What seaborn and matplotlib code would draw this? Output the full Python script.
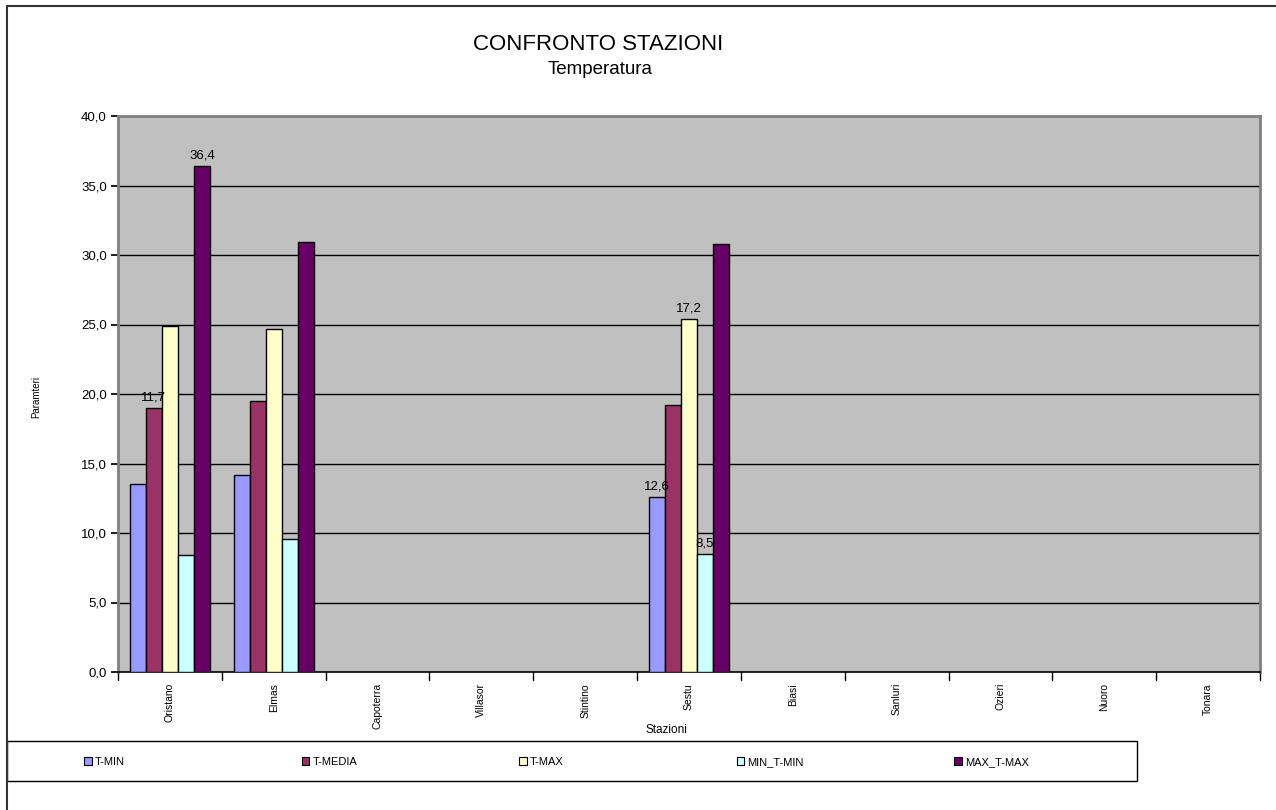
import numpy as np
import pandas as pd
import matplotlib
matplotlib.use("Agg")
import matplotlib.pyplot as plt
from matplotlib.lines import Line2D
from matplotlib.patches import Patch, Rectangle
import seaborn as sns

# Stations along the x axis
stations = ["Oristano", "Elmas", "Capoterra", "Villasor", "Stintino", "Sestu",
            "Biasi", "Sanluri", "Ozieri", "Nuoro", "Tonara"]
series = ["T-MIN", "T-MEDIA", "T-MAX", "MIN_T-MIN", "MAX_T-MAX"]

nan = np.nan
t_min     = [13.5, 14.2, nan, nan, nan, 12.6, nan, nan, nan, nan, nan]
t_media   = [19.0, 19.5, nan, nan, nan, 19.2, nan, nan, nan, nan, nan]
t_max     = [24.9, 24.7, nan, nan, nan, 25.4, nan, nan, nan, nan, nan]
min_t_min = [8.4, 9.6, nan, nan, nan, 8.5, nan, nan, nan, nan, nan]
max_t_max = [36.4, 30.9, nan, nan, nan, 30.8, nan, nan, nan, nan, nan]

# Data labels shown on selected bars
label_station = ["Oristano", "Oristano", "Sestu", "Sestu", "Sestu"]
label_series = ["T-MEDIA", "MAX_T-MAX", "T-MIN", "T-MAX", "MIN_T-MIN"]
label_text = ["11,7", "36,4", "12,6", "17,2", "8,5"]

y_ticks = [0, 5, 10, 15, 20, 25, 30, 35, 40]

colors = ["#9999FF", "#993366", "#FFFFCC", "#CCFFFF", "#660066"]

values = [t_min, t_media, t_max, min_t_min, max_t_max]
df = pd.DataFrame({
    "Stazione": np.repeat([stations], len(series), axis=0).ravel(),
    "Serie": np.repeat(series, len(stations)),
    "Valore": np.concatenate(values),
})

sns.set_theme(style="white")
plt.rcParams["font.family"] = ["Liberation Sans", "DejaVu Sans"]
plt.rcParams["text.color"] = "black"
plt.rcParams["axes.labelcolor"] = "black"
plt.rcParams["xtick.color"] = "black"
plt.rcParams["ytick.color"] = "black"

W, H = 1276, 810
fig = plt.figure(figsize=(W / 100, H / 100), dpi=100)
fig.patch.set_facecolor("white")

L, R, T, B = 118, 1260, 116, 672
ax = fig.add_axes([L / W, 1 - B / H, (R - L) / W, (B - T) / H])
ax.set_facecolor("#C0C0C0")

sns.barplot(data=df, x="Stazione", y="Valore", hue="Serie",
            order=stations, hue_order=series, palette=colors,
            width=0.77, errorbar=None, edgecolor="black", linewidth=1.0,
            saturation=1, legend=False, ax=ax, zorder=3)

ax.set_ylim(0, 40)
ax.set_xlim(-0.5, len(stations) - 0.5)
ax.set_yticks(y_ticks)
ax.set_yticklabels([f"{v:.1f}".replace(".", ",") for v in y_ticks], fontsize=9.5)
for v in y_ticks[1:-1]:
    ax.axhline(v, color="black", lw=1.0, zorder=1)

# category labels centred, tick marks on category boundaries
ax.set_xticks(range(len(stations)))
ax.set_xticklabels(stations, rotation=90, fontsize=7.5)
ax.tick_params(axis="x", length=0, pad=8)
ax.tick_params(axis="y", length=5, direction="out", color="black", pad=3, left=True)
for b in np.arange(-0.5, len(stations), 1.0):
    ax.plot([b, b], [0, -0.015], transform=ax.get_xaxis_transform(),
            color="black", lw=1, clip_on=False)

for side in ["top", "right", "left"]:
    ax.spines[side].set_color("#808080")
    ax.spines[side].set_linewidth(2)
ax.spines["bottom"].set_color("black")
ax.spines["bottom"].set_linewidth(1.2)

ax.set_xlabel("")
ax.set_ylabel("")

# data labels, placed over the matching bar of each series
for st, se, txt in zip(label_station, label_series, label_text):
    cont = ax.containers[series.index(se)]
    target = stations.index(st)
    for bar in cont.patches:
        x = bar.get_x() + bar.get_width() / 2
        if int(round(x)) == target:
            ax.annotate(txt, (x, bar.get_height()), xytext=(0, 3),
                        textcoords="offset points", ha="center", va="bottom",
                        fontsize=9.5, zorder=5)

# titles and axis names
fig.text(598 / W, 1 - 44 / H, "CONFRONTO STAZIONI", ha="center", va="center", fontsize=16)
fig.text(600 / W, 1 - 70 / H, "Temperatura", ha="center", va="center", fontsize=13.5)
fig.text(36 / W, 1 - 397 / H, "Paramteri", rotation=90, ha="center", va="center", fontsize=7)
fig.text(666 / W, 1 - 730 / H, "Stazioni", ha="center", va="center", fontsize=8.5)

# legend: frame plus evenly spaced entries
fig.add_artist(Rectangle((7 / W, 1 - 781 / H), (1137 - 7) / W, 40 / H,
                         transform=fig.transFigure, facecolor="white",
                         edgecolor="black", linewidth=1.0))
entry_x = np.linspace(84, 954, len(series))
for xpos, c, s in zip(entry_x, colors, series):
    h = Patch(facecolor=c, edgecolor="black", linewidth=0.8, label=s)
    fig.legend(handles=[h], loc="center left",
               bbox_to_anchor=(xpos / W, 1 - 762 / H), frameon=False,
               fontsize=8, handlelength=0.7, handleheight=0.7,
               handletextpad=0.3, borderaxespad=0, borderpad=0)

# chart frame lines
fig.add_artist(Line2D([7 / W, 1], [1 - 6 / H, 1 - 6 / H], color="#333333", lw=1.5))
fig.add_artist(Line2D([7 / W, 7 / W], [0, 1 - 6 / H], color="#333333", lw=1.5))

fig.savefig("out.png", dpi=100)
